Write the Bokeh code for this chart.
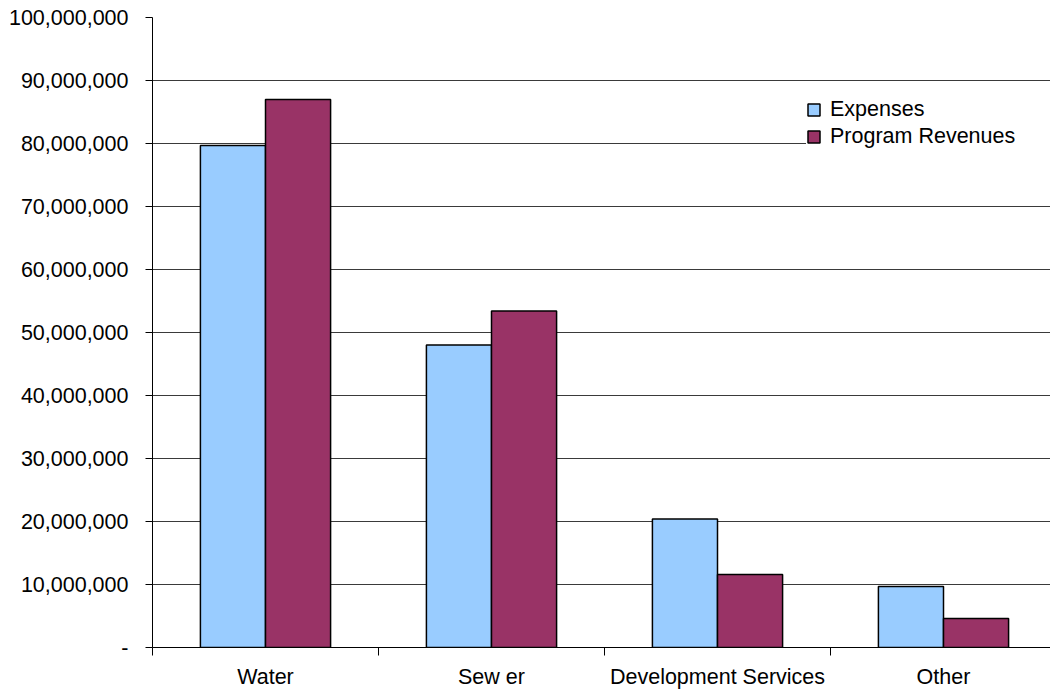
from bokeh.plotting import figure
from bokeh.models import Range1d, FixedTicker, NumeralTickFormatter, Legend, LegendItem, ColumnDataSource
from bokeh.transform import dodge
from bokeh.embed import file_html
from bokeh.resources import INLINE

categories = ["Water", "Sew er", "Development Services", "Other"]
expenses = [79_700_000, 48_000_000, 20_400_000, 9_700_000]
revenues = [87_000_000, 53_400_000, 11_600_000, 4_600_000]
y_ticks = [0, 10_000_000, 20_000_000, 30_000_000, 40_000_000, 50_000_000,
           60_000_000, 70_000_000, 80_000_000, 90_000_000, 100_000_000]

FONT = "Liberation Sans"
FS = "21.5px"
pos = [i + 0.5 for i in range(len(categories))]
src = ColumnDataSource(dict(x=pos, exp=expenses, rev=revenues))

p = figure(width=1050, height=696, output_backend="svg", toolbar_location=None,
           x_range=Range1d(0, 898 / 226), y_range=Range1d(0, 100_000_000),
           min_border_left=152, min_border_right=0, min_border_top=17, min_border_bottom=49)
p.outline_line_color = None
p.background_fill_color = "white"
p.border_fill_color = "white"

r1 = p.vbar(x=dodge("x", -0.144, range=p.x_range), top="exp", width=0.288, source=src,
            fill_color="#99CCFF", line_color="black", line_width=1.5)
r2 = p.vbar(x=dodge("x", 0.144, range=p.x_range), top="rev", width=0.288, source=src,
            fill_color="#993366", line_color="black", line_width=1.5)

# axes
p.xgrid.visible = False
p.ygrid.ticker = FixedTicker(ticks=y_ticks)
p.ygrid.grid_line_color = "#3a3a3a"
p.ygrid.grid_line_width = 1

ya = p.yaxis[0]
ya.ticker = FixedTicker(ticks=y_ticks)
ya.formatter = NumeralTickFormatter(format="0,0")
ya.major_label_overrides = {0: "-"}
ya.major_tick_out = 7
ya.major_tick_in = 0
ya.minor_tick_out = 0
ya.minor_tick_in = 0
ya.axis_line_color = "black"
ya.major_tick_line_color = "black"
ya.major_label_text_font = FONT
ya.major_label_text_font_size = FS
ya.major_label_text_color = "black"
ya.major_label_standoff = 17

xa = p.xaxis[0]
xa.ticker = FixedTicker(ticks=pos, minor_ticks=[0, 1, 2, 3, 4])
xa.major_label_overrides = {p_: c for p_, c in zip(pos, categories)}
xa.major_tick_out = 0
xa.major_tick_in = 0
xa.minor_tick_out = 8
xa.minor_tick_in = 0
xa.minor_tick_line_color = "black"
xa.axis_line_color = "black"
xa.major_label_text_font = FONT
xa.major_label_text_font_size = FS
xa.major_label_text_color = "black"
xa.major_label_standoff = 9

legend = Legend(items=[LegendItem(label="Expenses", renderers=[r1]),
                       LegendItem(label="Program Revenues", renderers=[r2])],
                location=(654, 497), padding=8, spacing=0, margin=0,
                glyph_width=15, glyph_height=15, label_standoff=9,
                label_height=27, label_width=230,
                label_text_font=FONT, label_text_font_size=FS, label_text_color="black",
                border_line_color=None, background_fill_color="white", background_fill_alpha=1.0)
p.add_layout(legend, "center")

open("out.html", "w").write(file_html(p, INLINE))
